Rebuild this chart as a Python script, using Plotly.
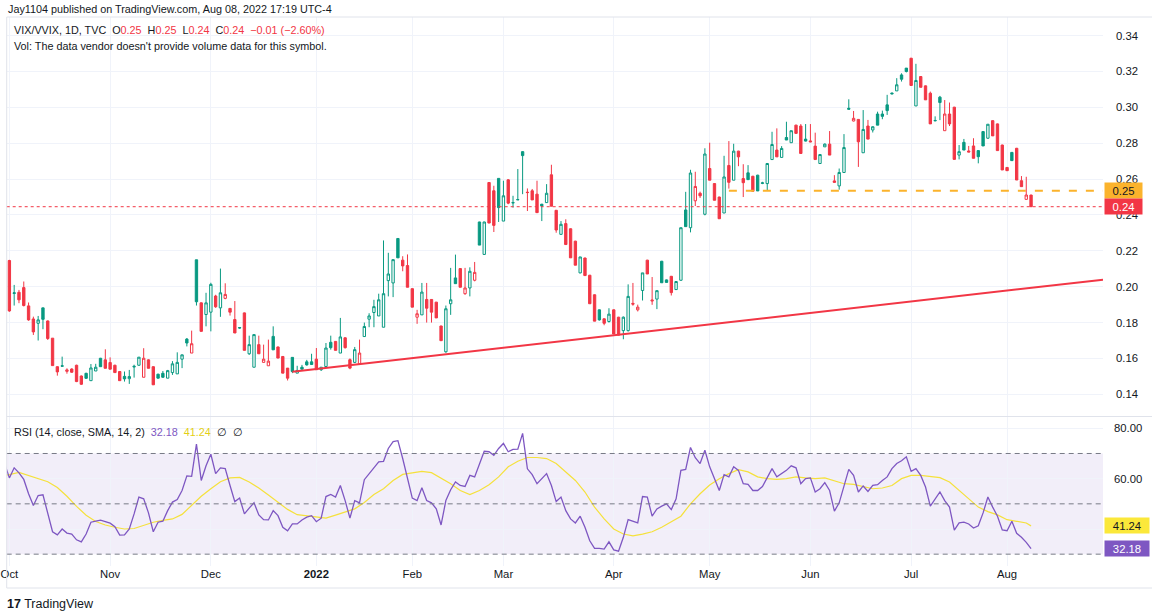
import pandas as pd
import plotly.graph_objects as go

# ---------------- data ----------------
holidays = ["2021-11-25", "2021-12-24", "2022-01-17", "2022-02-21",
            "2022-04-15", "2022-05-30", "2022-06-20", "2022-07-04"]
dates = [d.strftime("%Y-%m-%d") for d in pd.bdate_range("2021-10-01", "2022-08-08")
         if d.strftime("%Y-%m-%d") not in holidays]

opens = [0.2146, 0.1962, 0.1969, 0.1995, 0.1893, 0.1820, 0.1796, 0.1882, 0.1809, 0.1713,
         0.1554, 0.1559, 0.1528, 0.1541, 0.1562, 0.1502, 0.1517, 0.1476, 0.1530, 0.1601,
         0.1592, 0.1577, 0.1562, 0.1527, 0.1500, 0.1487, 0.1552, 0.1562, 0.1495, 0.1592,
         0.1554, 0.1512, 0.1517, 0.1490, 0.1521, 0.1514, 0.1596, 0.1708, 0.1630, 0.2150,
         0.1910, 0.1845, 0.1858, 0.1948, 0.1882, 0.1935, 0.1879, 0.1817, 0.1772, 0.1854,
         0.1626, 0.1551, 0.1677, 0.1578, 0.1559, 0.1723, 0.1664, 0.1611, 0.1546, 0.1606,
         0.1518, 0.1551, 0.1581, 0.1581, 0.1596, 0.1537, 0.1555, 0.1690, 0.1695, 0.1630,
         0.1715, 0.1593, 0.1578, 0.1570, 0.1722, 0.1819, 0.1856, 0.1837, 0.1774, 0.2034,
         0.2021, 0.2269, 0.2148, 0.2118, 0.1989, 0.1830, 0.1843, 0.1929, 0.1929, 0.1914,
         0.1781, 0.1637, 0.1905, 0.2049, 0.2101, 0.1961, 0.1993, 0.2036, 0.2361, 0.2180,
         0.2581, 0.2535, 0.2604, 0.2366, 0.2596, 0.2467, 0.2484, 0.2753, 0.2527, 0.2535,
         0.2516, 0.2460, 0.2469, 0.2624, 0.2426, 0.2292, 0.2352, 0.2323, 0.2254, 0.2077,
         0.2160, 0.2064, 0.1955, 0.1871, 0.1821, 0.1806, 0.1871, 0.1830, 0.1755, 0.1755,
         0.1907, 0.1871, 0.1979, 0.2148, 0.1920, 0.1931, 0.2142, 0.2038, 0.2058, 0.1984,
         0.2036, 0.2428, 0.2329, 0.2479, 0.2521, 0.2404, 0.2659, 0.2575, 0.2500, 0.2411,
         0.2676, 0.2594, 0.2756, 0.2603, 0.2635, 0.2616, 0.2622, 0.2576, 0.2575, 0.2709,
         0.2762, 0.2721, 0.2832, 0.2803, 0.2901, 0.2896, 0.2823, 0.2813, 0.2784, 0.2687,
         0.2780, 0.2795, 0.2590, 0.2562, 0.2637, 0.2995, 0.2924, 0.2933, 0.2747, 0.2896,
         0.2874, 0.2963, 0.2963, 0.3014, 0.3080, 0.3092, 0.3181, 0.3219, 0.3274, 0.3008,
         0.3172, 0.3120, 0.3079, 0.2925, 0.3057, 0.2870, 0.2963, 0.3001, 0.2734, 0.2805,
         0.2757, 0.2785, 0.2759, 0.2865, 0.2828, 0.2926, 0.2908, 0.2790, 0.2665, 0.2749,
         0.2772, 0.2591, 0.2487, 0.2511]
highs = [0.2150, 0.2010, 0.1982, 0.2029, 0.1912, 0.1833, 0.1837, 0.1882, 0.1812, 0.1713,
         0.1556, 0.1610, 0.1545, 0.1545, 0.1565, 0.1505, 0.1520, 0.1569, 0.1570, 0.1603,
         0.1651, 0.1606, 0.1565, 0.1530, 0.1527, 0.1536, 0.1565, 0.1607, 0.1657, 0.1595,
         0.1556, 0.1515, 0.1530, 0.1536, 0.1585, 0.1634, 0.1622, 0.1714, 0.1755, 0.2150,
         0.1912, 0.1966, 0.2022, 0.1955, 0.2101, 0.2019, 0.1880, 0.1920, 0.1774, 0.1856,
         0.1727, 0.1733, 0.1727, 0.1677, 0.1705, 0.1779, 0.1666, 0.1613, 0.1546, 0.1606,
         0.1559, 0.1564, 0.1592, 0.1626, 0.1658, 0.1551, 0.1686, 0.1727, 0.1697, 0.1826,
         0.1718, 0.1600, 0.1664, 0.1705, 0.1800, 0.1852, 0.1927, 0.1961, 0.2258, 0.2189,
         0.2151, 0.2269, 0.2170, 0.2180, 0.1990, 0.1871, 0.2021, 0.2021, 0.1930, 0.1915,
         0.1782, 0.1895, 0.2105, 0.2179, 0.2103, 0.2105, 0.2108, 0.2138, 0.2362, 0.2362,
         0.2583, 0.2563, 0.2604, 0.2591, 0.2600, 0.2507, 0.2656, 0.2755, 0.2548, 0.2545,
         0.2591, 0.2462, 0.2572, 0.2680, 0.2428, 0.2366, 0.2376, 0.2325, 0.2256, 0.2166,
         0.2162, 0.2066, 0.1957, 0.1873, 0.1823, 0.1880, 0.1873, 0.1832, 0.1834, 0.2013,
         0.2021, 0.1900, 0.2077, 0.2150, 0.2054, 0.1978, 0.2144, 0.2040, 0.2060, 0.2031,
         0.2329, 0.2529, 0.2652, 0.2641, 0.2530, 0.2772, 0.2803, 0.2577, 0.2502, 0.2730,
         0.2812, 0.2797, 0.2758, 0.2683, 0.2678, 0.2618, 0.2624, 0.2585, 0.2690, 0.2864,
         0.2883, 0.2784, 0.2920, 0.2870, 0.2903, 0.2907, 0.2907, 0.2907, 0.2859, 0.2737,
         0.2799, 0.2868, 0.2622, 0.2659, 0.2851, 0.3045, 0.2980, 0.2935, 0.2985, 0.2930,
         0.2894, 0.2976, 0.2982, 0.3070, 0.3082, 0.3163, 0.3190, 0.3219, 0.3276, 0.3243,
         0.3174, 0.3122, 0.3088, 0.2950, 0.3064, 0.3041, 0.3027, 0.3003, 0.2790, 0.2824,
         0.2785, 0.2828, 0.2761, 0.2867, 0.2906, 0.2928, 0.2910, 0.2792, 0.2667, 0.2751,
         0.2774, 0.2617, 0.2613, 0.2513]
lows = [0.1860, 0.1895, 0.1908, 0.1890, 0.1810, 0.1731, 0.1700, 0.1763, 0.1703, 0.1560,
        0.1504, 0.1556, 0.1515, 0.1520, 0.1468, 0.1452, 0.1487, 0.1476, 0.1530, 0.1554,
        0.1545, 0.1540, 0.1521, 0.1476, 0.1471, 0.1458, 0.1493, 0.1560, 0.1495, 0.1545,
        0.1453, 0.1488, 0.1493, 0.1490, 0.1508, 0.1514, 0.1546, 0.1667, 0.1630, 0.1895,
        0.1751, 0.1779, 0.1751, 0.1882, 0.1832, 0.1930, 0.1839, 0.1742, 0.1766, 0.1645,
        0.1620, 0.1551, 0.1626, 0.1578, 0.1559, 0.1648, 0.1602, 0.1518, 0.1477, 0.1518,
        0.1518, 0.1540, 0.1560, 0.1566, 0.1537, 0.1530, 0.1555, 0.1649, 0.1645, 0.1630,
        0.1655, 0.1540, 0.1574, 0.1570, 0.1722, 0.1774, 0.1774, 0.1837, 0.1774, 0.1946,
        0.1942, 0.2161, 0.2086, 0.1997, 0.1886, 0.1793, 0.1843, 0.1800, 0.1800, 0.1826,
        0.1699, 0.1632, 0.1843, 0.2017, 0.1997, 0.1955, 0.1946, 0.2030, 0.2232, 0.2178,
        0.2355, 0.2305, 0.2361, 0.2366, 0.2460, 0.2441, 0.2484, 0.2516, 0.2422, 0.2484,
        0.2413, 0.2366, 0.2469, 0.2449, 0.2301, 0.2290, 0.2235, 0.2161, 0.2120, 0.2075,
        0.2060, 0.1905, 0.1808, 0.1811, 0.1785, 0.1800, 0.1736, 0.1728, 0.1707, 0.1750,
        0.1894, 0.1862, 0.1923, 0.2071, 0.1899, 0.1875, 0.2022, 0.2024, 0.1951, 0.1982,
        0.2034, 0.2335, 0.2303, 0.2450, 0.2495, 0.2398, 0.2594, 0.2482, 0.2379, 0.2411,
        0.2547, 0.2594, 0.2672, 0.2500, 0.2597, 0.2532, 0.2534, 0.2572, 0.2538, 0.2709,
        0.2724, 0.2721, 0.2818, 0.2803, 0.2855, 0.2743, 0.2810, 0.2806, 0.2709, 0.2687,
        0.2780, 0.2734, 0.2580, 0.2541, 0.2637, 0.2990, 0.2922, 0.2668, 0.2747, 0.2823,
        0.2860, 0.2901, 0.2934, 0.2958, 0.3072, 0.3092, 0.3144, 0.3195, 0.3122, 0.3008,
        0.3112, 0.3042, 0.2908, 0.2922, 0.2929, 0.2870, 0.2896, 0.2710, 0.2710, 0.2762,
        0.2751, 0.2716, 0.2688, 0.2785, 0.2826, 0.2841, 0.2759, 0.2651, 0.2647, 0.2703,
        0.2595, 0.2558, 0.2487, 0.24461]
closes = [0.1865, 0.1966, 0.1927, 0.1895, 0.1815, 0.1748, 0.1815, 0.1818, 0.1711, 0.1560,
          0.1525, 0.1557, 0.1536, 0.1523, 0.1471, 0.1456, 0.1489, 0.1547, 0.1551, 0.1554,
          0.1545, 0.1540, 0.1521, 0.1476, 0.1486, 0.1499, 0.1556, 0.1607, 0.1601, 0.1545,
          0.1453, 0.1490, 0.1495, 0.1532, 0.1570, 0.1578, 0.1620, 0.1686, 0.1682, 0.1916,
          0.1751, 0.1910, 0.2013, 0.1888, 0.1966, 0.1957, 0.1858, 0.1742, 0.1770, 0.1645,
          0.1677, 0.1733, 0.1626, 0.1596, 0.1585, 0.1648, 0.1602, 0.1518, 0.1490, 0.1527,
          0.1533, 0.1540, 0.1564, 0.1566, 0.1537, 0.1551, 0.1658, 0.1660, 0.1645, 0.1720,
          0.1660, 0.1546, 0.1649, 0.1630, 0.1778, 0.1837, 0.1889, 0.1927, 0.1961, 0.2071,
          0.2151, 0.2161, 0.2116, 0.1997, 0.1886, 0.1849, 0.1970, 0.1880, 0.1858, 0.1826,
          0.1699, 0.1877, 0.1927, 0.2017, 0.1997, 0.1993, 0.2086, 0.2080, 0.2232, 0.2361,
          0.2355, 0.2342, 0.2441, 0.2507, 0.2466, 0.2469, 0.2486, 0.2731, 0.2525, 0.2484,
          0.2413, 0.2451, 0.2521, 0.2449, 0.2316, 0.2348, 0.2235, 0.2161, 0.2120, 0.2166,
          0.2062, 0.1905, 0.1808, 0.1815, 0.1796, 0.1847, 0.1736, 0.1730, 0.1830, 0.1946,
          0.1903, 0.1886, 0.2077, 0.2071, 0.1925, 0.1978, 0.2022, 0.2024, 0.1967, 0.2029,
          0.2329, 0.2335, 0.2634, 0.2559, 0.2507, 0.2740, 0.2594, 0.2482, 0.2379, 0.2612,
          0.2582, 0.2756, 0.2724, 0.2580, 0.2597, 0.2532, 0.2534, 0.2579, 0.2687, 0.2793,
          0.2724, 0.2771, 0.2818, 0.2870, 0.2855, 0.2743, 0.2812, 0.2808, 0.2709, 0.2737,
          0.2795, 0.2734, 0.2582, 0.2637, 0.2776, 0.2990, 0.2939, 0.2808, 0.2877, 0.2823,
          0.2892, 0.2901, 0.2950, 0.2982, 0.3076, 0.3126, 0.3157, 0.3200, 0.3122, 0.3150,
          0.3112, 0.3042, 0.2908, 0.2927, 0.3027, 0.2963, 0.2908, 0.2710, 0.2753, 0.2762,
          0.2751, 0.2716, 0.2725, 0.2785, 0.2906, 0.2841, 0.2759, 0.2651, 0.2647, 0.2703,
          0.2595, 0.2558, 0.25114, 0.24461]
prev_close_start = 0.2150  # close of the bar before the first visible one

rsi_dates = ["2021-09-30"] + dates
rsi = [66.0,
       60.3, 64.3, 62.3, 59.7, 54.0, 49.3, 53.3, 53.6, 46.0, 38.9,
       37.7, 40.0, 38.4, 38.0, 35.7, 34.9, 38.0, 42.7, 43.1, 43.5,
       42.9, 42.3, 40.9, 37.6, 37.7, 40.0, 46.0, 52.7, 52.0, 46.4,
       38.9, 42.7, 43.1, 47.3, 50.7, 51.7, 55.3, 61.1, 60.9, 73.7,
       59.3, 65.1, 69.7, 62.0, 64.3, 64.0, 57.3, 50.9, 52.3, 46.0,
       48.3, 50.4, 45.6, 43.7, 43.6, 47.3, 45.3, 40.7, 39.3, 42.0,
       42.0, 43.6, 44.7, 45.3, 42.9, 44.3, 52.9, 53.7, 52.7, 57.3,
       51.3, 44.3, 51.3, 50.4, 59.6, 62.0, 64.3, 66.7, 66.9, 72.0,
       74.7, 75.1, 68.0, 60.0, 52.3, 51.3, 56.4, 51.3, 50.4, 48.0,
       41.6, 51.3, 55.6, 58.7, 57.3, 56.9, 61.3, 60.7, 65.6, 70.9,
       70.7, 69.3, 72.0, 74.0, 70.7, 71.6, 71.7, 78.0, 63.9, 61.6,
       58.0, 60.0, 62.0, 57.3, 50.9, 52.7, 47.3, 44.0, 42.4, 45.1,
       40.7, 35.3, 32.3, 32.3, 32.0, 34.9, 31.7, 31.2, 36.7, 43.7,
       42.9, 42.4, 52.9, 52.7, 45.1, 48.0, 49.1, 50.0, 47.7, 52.0,
       63.3, 63.7, 72.4, 68.3, 66.0, 71.3, 64.7, 60.0, 55.3, 61.6,
       60.7, 64.7, 63.3, 58.0, 57.7, 55.3, 55.3, 56.9, 60.7, 64.0,
       60.7, 62.0, 63.3, 65.1, 64.3, 58.0, 60.0, 60.3, 54.7, 56.0,
       58.4, 55.3, 47.1, 50.4, 57.3, 63.7, 61.3, 54.7, 57.1, 54.9,
       57.3, 57.6, 59.3, 60.7, 64.0, 66.0, 67.1, 68.7, 62.9, 64.0,
       61.3, 56.7, 49.1, 51.7, 54.7, 51.3, 48.7, 39.6, 42.4, 42.7,
       42.0, 40.4, 41.3, 46.4, 52.7, 48.7, 45.1, 39.6, 39.3, 43.1,
       38.3, 36.7, 34.7, 32.18]
# positions in rsi_dates and values of the SMA line
sma_pos = [0, 1, 3, 5, 7, 9, 11, 13, 15, 17, 19, 21, 23, 25, 27, 29, 31, 33, 35, 37,
           39, 41, 43, 45, 47, 49, 51, 53, 55, 57, 59, 61, 63, 65, 67, 69, 71, 73, 75, 77,
           79, 81, 83, 85, 87, 89, 91, 93, 95, 97, 99, 101, 103, 105, 107, 109, 111, 113, 115, 117,
           119, 121, 123, 125, 127, 129, 131, 133, 135, 137, 139, 141, 143, 145, 147, 149, 151, 153, 155, 157,
           159, 161, 163, 165, 167, 169, 171, 173, 175, 177, 179, 181, 183, 185, 187, 189, 191, 193, 195, 197,
           199, 201, 203, 205, 207, 209, 211, 213, 214]
sma = [61.3, 61.6, 62.5, 61.3, 59.8, 58.8, 56.5, 53.0, 49.0, 45.5, 43.0, 41.6, 40.7, 40.0, 40.2,
       41.5, 42.7, 43.4, 44.0, 45.8, 49.5, 53.0, 56.0, 58.8, 60.3, 60.5, 58.7, 56.3, 53.5, 50.6,
       47.8, 45.7, 45.2, 44.5, 44.3, 45.5, 46.8, 48.0, 50.5, 53.7, 56.0, 59.3, 61.7, 62.4, 62.9,
       62.4, 60.3, 58.0, 55.3, 53.7, 55.3, 57.6, 60.7, 64.7, 66.9, 68.4, 68.4, 68.0, 66.0, 62.7,
       59.3, 54.7, 48.7, 44.0, 40.0, 38.0, 37.3, 38.0, 38.9, 40.7, 42.9, 45.1, 50.0, 54.0, 57.5,
       60.0, 62.0, 63.6, 62.7, 60.7, 60.0, 59.7, 60.0, 60.7, 60.3, 60.0, 60.3, 59.3, 58.0, 57.7,
       56.9, 56.0, 56.3, 57.3, 60.0, 61.3, 61.3, 60.7, 60.4, 58.7, 55.3, 51.7, 48.7, 46.9, 45.6,
       43.7, 42.9, 42.4, 41.24]

# drawing tools on the chart
trend_dates = ["2021-12-27", "2022-08-29"]
trend_prices = [0.1526, 0.2039]
level_dates = ["2022-05-06", "2022-08-29"]
level_price = 0.2535

# axes
view_range = ["2021-09-30 10:34", "2022-08-29"]
month_ticks = ["2021-10-01", "2021-11-01", "2021-12-01", "2022-01-03", "2022-02-01", "2022-03-01",
               "2022-04-01", "2022-05-02", "2022-06-01", "2022-07-01", "2022-08-01"]
month_labels = ["Oct", "Nov", "Dec", "<b>2022</b>", "Feb", "Mar", "Apr", "May", "Jun", "Jul", "Aug"]
price_ticks = [0.14, 0.16, 0.18, 0.20, 0.22, 0.24, 0.26, 0.28, 0.30, 0.32, 0.34]
rsi_ticks = [40, 60, 80]
rsi_tick_labels = ["", "60.00", "80.00"]

# ---------------- style ----------------
W, H = 1152, 614
GREEN = "#089981"
RED = "#f23645"
PURPLE = "#7e57c2"
YELLOW = "#f5e13c"
ORANGE = "#fbb32c"
TXT = "#131722"
GRID = "#f0f3fa"
FONT = "Liberation Sans, Arial, sans-serif"

x_dom = [6.7 / W, 1103 / W]
main_dom = [1 - 416 / H, 1 - 17 / H]
rsi_dom = [1 - 566 / H, 1 - 417 / H]

n = len(dates)
prev = [prev_close_start] + closes[:-1]
up = [i for i in range(n) if closes[i] >= prev[i]]
dn = [i for i in range(n) if closes[i] < prev[i]]


def pick(arr, idx):
    return [arr[i] for i in idx]


fig = go.Figure()
for idx, col in ((up, GREEN), (dn, RED)):
    fig.add_trace(go.Candlestick(
        x=pick(dates, idx), open=pick(opens, idx), high=pick(highs, idx),
        low=pick(lows, idx), close=pick(closes, idx),
        increasing=dict(line=dict(color=col, width=1), fillcolor="white"),
        decreasing=dict(line=dict(color=col, width=1), fillcolor=col),
        whiskerwidth=0, xaxis="x2", yaxis="y2", showlegend=False, hoverinfo="skip"))

fig.add_trace(go.Scatter(x=trend_dates, y=trend_prices, mode="lines",
                         line=dict(color=RED, width=2), xaxis="x2", yaxis="y2",
                         showlegend=False, hoverinfo="skip"))
fig.add_trace(go.Scatter(x=level_dates, y=[level_price] * len(level_dates), mode="lines",
                         line=dict(color=ORANGE, width=2, dash="8px,9px"), xaxis="x2", yaxis="y2",
                         showlegend=False, hoverinfo="skip"))

fig.add_trace(go.Scatter(x=[rsi_dates[p] for p in sma_pos], y=sma, mode="lines",
                         line=dict(color=YELLOW, width=1.2), xaxis="x", yaxis="y",
                         showlegend=False, hoverinfo="skip"))
fig.add_trace(go.Scatter(x=rsi_dates, y=rsi, mode="lines",
                         line=dict(color=PURPLE, width=1.3), xaxis="x", yaxis="y",
                         showlegend=False, hoverinfo="skip"))

rangebreaks = [dict(bounds=["sat", "mon"]), dict(values=holidays)]
common_x = dict(domain=x_dom, type="date", range=view_range, rangebreaks=rangebreaks,
                showgrid=True, gridcolor=GRID, gridwidth=1, zeroline=False, showline=False,
                tickvals=month_ticks, ticktext=month_labels, ticks="",
                rangeslider=dict(visible=False), automargin=False)

fig.update_layout(
    width=W, height=H, margin=dict(l=0, r=0, t=0, b=0),
    paper_bgcolor="white", plot_bgcolor="white", template="none",
    font=dict(family=FONT, color=TXT, size=11.3),
    hovermode=False, showlegend=False,
    xaxis=dict(**common_x, anchor="y", tickfont=dict(size=11.3, color=TXT)),
    xaxis2=dict(**common_x, anchor="y2", showticklabels=False),
    yaxis=dict(domain=rsi_dom, range=[25.3, 84.5], side="right", anchor="x",
               tickvals=rsi_ticks, ticktext=rsi_tick_labels, showgrid=True, gridcolor=GRID,
               zeroline=False, showline=False, ticks="", ticklabelstandoff=10,
               tickfont=dict(size=11.3, color=TXT), automargin=False),
    yaxis2=dict(domain=main_dom, range=[0.1279, 0.3504], side="right", anchor="x2",
                tickvals=price_ticks, ticktext=["%.2f" % v for v in price_ticks],
                showgrid=True, gridcolor=GRID, zeroline=False, showline=False, ticks="",
                ticklabelstandoff=12, tickfont=dict(size=11.3, color=TXT), automargin=False),
)

# RSI band and levels
fig.add_shape(type="rect", xref="x domain", yref="y", x0=0, x1=1, y0=30, y1=70,
              fillcolor="rgba(126,87,194,0.1)", line=dict(width=0), layer="below")
for lv in (70, 50, 30):
    fig.add_shape(type="line", xref="x domain", yref="y", x0=0, x1=1, y0=lv, y1=lv,
                  line=dict(color="#787b86", width=1, dash="5px,4px"))
# last price line
fig.add_shape(type="line", xref="x2 domain", yref="y2", x0=0, x1=1, y0=closes[-1], y1=closes[-1],
              line=dict(color=RED, width=1, dash="dot"))
# pane borders
for y in (17, 416.5, 588):
    fig.add_shape(type="line", xref="paper", yref="paper", x0=6.7 / W, x1=1, y0=1 - y / H, y1=1 - y / H,
                  line=dict(color="#e0e3eb", width=1))
fig.add_shape(type="line", xref="paper", yref="paper", x0=6.7 / W, x1=6.7 / W, y0=1 - 588 / H, y1=1 - 17 / H,
              line=dict(color="#e0e3eb", width=1))

NB = "\u00a0"
def red(t):
    return "<span style='color:%s'>%s</span>" % (RED, t)

chg = closes[-1] - closes[-2]
pct = chg / closes[-2] * 100
legend1 = ("VIX/VVIX, 1D, TVC" + NB * 2 + "O" + red("%.2f" % opens[-1]) + NB * 2 +
           "H" + red("%.2f" % highs[-1]) + NB * 2 + "L" + red("%.2f" % lows[-1]) + NB * 2 +
           "C" + red("%.2f" % closes[-1]) + NB * 2 +
           red("\u2212%.2f (\u2212%.2f%%)" % (abs(chg), abs(pct))))
rsi_legend = ("RSI (14, close, SMA, 14, 2)" + NB * 2 +
              "<span style='color:%s'>%.2f</span>" % (PURPLE, rsi[-1]) + NB * 2 +
              "<span style='color:#e3cf14'>%.2f</span>" % sma[-1] + NB * 2 + "\u2205" + NB * 2 + "\u2205")

def txt(x, y, text, size=10.8, **kw):
    fig.add_annotation(xref="paper", yref="paper", x=x / W, y=1 - y / H, text=text,
                       showarrow=False, xanchor="left", yanchor="middle",
                       font=dict(size=size, color=TXT, family=FONT), **kw)

txt(6, 8.5, "Jay1104 published on TradingView.com, Aug 08, 2022 17:19 UTC-4")
txt(12, 30, legend1)
txt(12, 46, "Vol: The data vendor doesn't provide volume data for this symbol.")
txt(12, 432, rsi_legend)
txt(5, 604, "<b>17</b> TradingView", size=12.5)

def label(yref, yval, text, bg, fg, w):
    fig.add_annotation(xref="paper", yref=yref, x=1104 / W, y=yval, text=text, showarrow=False,
                       xanchor="left", yanchor="middle", bgcolor=bg, width=w, height=13,
                       borderpad=1, align="center", font=dict(size=11.3, color=fg, family=FONT))

label("y2", level_price, "%.2f" % level_price, ORANGE, TXT, 35)
label("y2", closes[-1], "%.2f" % closes[-1], RED, "white", 35)
label("y", sma[-1], "%.2f" % sma[-1], "#fbe83a", TXT, 42)
label("y", rsi[-1], "%.2f" % rsi[-1], PURPLE, "white", 42)

fig.write_html("out.html", config={"displayModeBar": False},
               post_script="document.body.style.margin='0';")
